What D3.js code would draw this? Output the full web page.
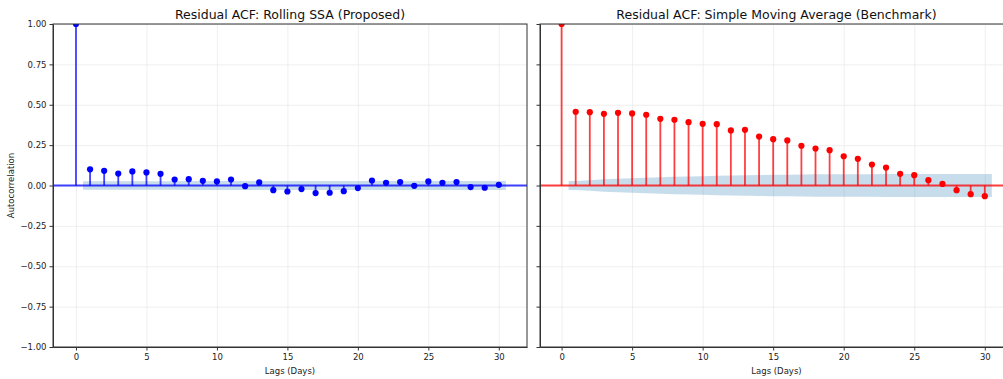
<!DOCTYPE html>
<html>
<head>
<meta charset="utf-8">
<script src="https://d3js.org/d3.v7.min.js"></script>
<style>
  body { margin: 0; background: #fff; }
  svg { font-family: "DejaVu Sans", sans-serif; }
  .grid line { stroke: #ebebeb; stroke-width: 0.8; }
  .grid path { display: none; }
  .axis path, .axis line { stroke: #333; }
  .axis text { fill: #222; font-size: 8.5px; font-family: "DejaVu Sans", sans-serif; }
</style>
</head>
<body>
<script>
  // lags 0..30
  var lags = d3.range(0, 31);
  // residual ACF, rolling SSA (lag 0 = 1)
  var ssaAcf = [1.0, 0.100, 0.091, 0.074, 0.087, 0.081, 0.072, 0.037, 0.039, 0.029, 0.025,
                0.037, -0.004, 0.019, -0.029, -0.037, -0.022, -0.047, -0.045, -0.035, -0.016,
                0.031, 0.017, 0.021, -0.002, 0.025, 0.017, 0.021, -0.010, -0.014, 0.004];
  // residual ACF, simple moving average
  var smaAcf = [1.0, 0.456, 0.454, 0.444, 0.450, 0.446, 0.438, 0.413, 0.407, 0.392, 0.382,
                0.380, 0.341, 0.345, 0.303, 0.287, 0.279, 0.246, 0.229, 0.219, 0.181,
                0.165, 0.130, 0.111, 0.072, 0.064, 0.033, 0.010, -0.029, -0.054, -0.066];
  // 95% confidence half-widths for lags 1..30
  var ssaBand = [0.026, 0.026, 0.027, 0.027, 0.027, 0.027, 0.027, 0.028, 0.028, 0.028,
                 0.028, 0.028, 0.028, 0.028, 0.028, 0.028, 0.028, 0.028, 0.028, 0.028,
                 0.028, 0.028, 0.028, 0.028, 0.028, 0.028, 0.028, 0.028, 0.028, 0.028];
  var smaBand = [0.028, 0.033, 0.038, 0.042, 0.045, 0.048, 0.051, 0.054, 0.056, 0.058,
                 0.060, 0.062, 0.063, 0.065, 0.066, 0.067, 0.068, 0.069, 0.069, 0.070,
                 0.070, 0.070, 0.071, 0.071, 0.071, 0.071, 0.071, 0.071, 0.071, 0.071];
  var xTicks = [0, 5, 10, 15, 20, 25, 30];
  var yTicks = [-1, -0.75, -0.5, -0.25, 0, 0.25, 0.5, 0.75, 1];

  var width = 1003, height = 379;
  var plotTop = 24, plotBottom = 347;
  var svg = d3.select('body').append('svg')
    .attr('width', width).attr('height', height);

  var yScale = d3.scaleLinear().domain([-1, 1]).range([plotBottom, plotTop]);
  var fmt = function(d) { return d3.format('.2f')(d).replace('-', '\u2212'); };

  function panel(id, left, right, xMin, acf, band, color, title, showY) {
    var x = d3.scaleLinear().domain([xMin, 32]).range([left, right]);
    var g = svg.append('g');

    g.append('clipPath').attr('id', 'clip' + id)
      .append('rect').attr('x', left).attr('y', plotTop)
      .attr('width', right - left).attr('height', plotBottom - plotTop);

    // grid
    g.append('g').attr('class', 'grid')
      .attr('transform', 'translate(0,' + plotBottom + ')')
      .call(d3.axisBottom(x).tickValues(xTicks).tickSize(-(plotBottom - plotTop)).tickFormat(''));
    g.append('g').attr('class', 'grid')
      .attr('transform', 'translate(' + left + ',0)')
      .call(d3.axisLeft(yScale).tickValues(yTicks).tickSize(-(right - left)).tickFormat(''));

    var plot = g.append('g').attr('clip-path', 'url(#clip' + id + ')');

    // confidence band
    var pts = [{lag: 0.5, h: band[0]}]
      .concat(band.map(function(h, i) { return {lag: i + 1, h: h}; }))
      .concat([{lag: 30.5, h: band[band.length - 1]}]);
    plot.append('path').datum(pts)
      .attr('fill', '#1f77b4').attr('fill-opacity', 0.25)
      .attr('d', d3.area()
        .x(function(d) { return x(d.lag); })
        .y0(function(d) { return yScale(-d.h); })
        .y1(function(d) { return yScale(d.h); }));

    // zero line
    plot.append('line')
      .attr('x1', left).attr('x2', right)
      .attr('y1', yScale(0)).attr('y2', yScale(0))
      .attr('stroke', color).attr('stroke-opacity', 0.75).attr('stroke-width', 1.8);

    // stems
    plot.selectAll('line.stem').data(lags).enter().append('line')
      .attr('class', 'stem')
      .attr('x1', function(d) { return x(d); }).attr('x2', function(d) { return x(d); })
      .attr('y1', yScale(0)).attr('y2', function(d) { return yScale(acf[d]); })
      .attr('stroke', color).attr('stroke-opacity', 0.75).attr('stroke-width', 1.8);

    plot.selectAll('circle').data(lags).enter().append('circle')
      .attr('cx', function(d) { return x(d); })
      .attr('cy', function(d) { return yScale(acf[d]); })
      .attr('r', 3.1)
      .attr('fill', color);

    // axes
    g.append('g').attr('class', 'axis')
      .attr('transform', 'translate(0,' + plotBottom + ')')
      .call(d3.axisBottom(x).tickValues(xTicks).tickSize(3.5).tickPadding(3).tickSizeOuter(0));
    g.append('g').attr('class', 'axis')
      .attr('transform', 'translate(' + left + ',0)')
      .call(d3.axisLeft(yScale).tickValues(yTicks).tickSize(3.5).tickPadding(3).tickSizeOuter(0)
        .tickFormat(showY ? fmt : ''));

    // frame
    g.append('rect').attr('x', left).attr('y', plotTop)
      .attr('width', right - left).attr('height', plotBottom - plotTop)
      .attr('fill', 'none').attr('stroke', '#333').attr('stroke-width', 1);

    g.append('text').attr('x', (left + right) / 2).attr('y', 19)
      .attr('text-anchor', 'middle').attr('font-size', '12.5px').attr('fill', '#111')
      .text(title);
    g.append('text').attr('x', (left + right) / 2).attr('y', 374)
      .attr('text-anchor', 'middle').attr('font-size', '8.5px').attr('fill', '#222')
      .text('Lags (Days)');
  }

  panel('a', 53, 527, -1.63, ssaAcf, ssaBand, 'blue', 'Residual ACF: Rolling SSA (Proposed)', true);
  panel('b', 540, 1013, -1.53, smaAcf, smaBand, 'red', 'Residual ACF: Simple Moving Average (Benchmark)', false);

  svg.append('text')
    .attr('transform', 'translate(14,' + (plotTop + plotBottom) / 2 + ') rotate(-90)')
    .attr('text-anchor', 'middle').attr('font-size', '8.5px').attr('fill', '#222')
    .text('Autocorrelation');
</script>
</body>
</html>
